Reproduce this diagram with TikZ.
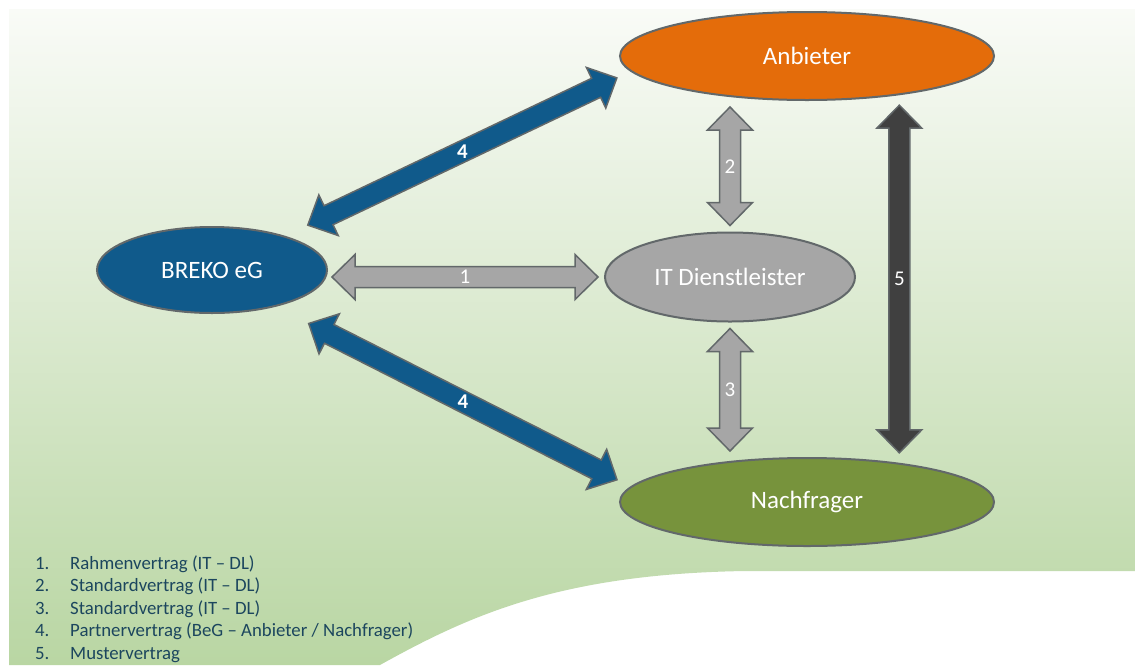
\documentclass[tikz,border=0pt]{standalone}
\usepackage{fontspec}
\setmainfont{Carlito}
\usetikzlibrary{shapes.geometric,calc}

\definecolor{anbieter}{HTML}{E46C0A}
\definecolor{breko}{HTML}{105A8B}
\definecolor{itgrey}{HTML}{A6A6A6}
\definecolor{nachfr}{HTML}{77933C}
\definecolor{darkarr}{HTML}{404040}
\definecolor{rimgrey}{HTML}{62686A}
\definecolor{legendtxt}{RGB}{28,70,94}
\definecolor{bgtop}{HTML}{F9FBF7}
\definecolor{bgbottom}{HTML}{B9D6A3}

% half shaft width, half head width, head length
\newcommand{\shw}{10.5}
\newcommand{\hdw}{22.5}
\newcommand{\hdl}{23}

\tikzset{
  party/.style={ellipse, draw=rimgrey, line width=2pt, text=white,
    font=\fontsize{25}{30}\selectfont, minimum width=374, minimum height=88},
  blockarrow/.style={draw=rimgrey, line width=1.5pt, line join=miter},
  arrlabel/.style={text=white, font=\fontsize{21}{25}\selectfont, inner sep=0pt},
}

% double block arrow: from, to, gap at from, gap at to, fill, label
\newcommand{\blockarr}[6]{%
  \draw[blockarrow, fill=#5]
    let \p1=($(#1)!#3!(#2)$), \p2=($(#2)!#4!(#1)$), \p3=($(\p2)-(\p1)$),
        \n1={veclen(\x3,\y3)}, \n2={atan2(\y3,\x3)} in
    {[shift={(\p1)}, rotate=\n2]
      (0,0) -- (\hdl,\hdw) -- (\hdl,\shw) -- (\n1-\hdl,\shw) -- (\n1-\hdl,\hdw) -- (\n1,0)
      -- (\n1-\hdl,-\hdw) -- (\n1-\hdl,-\shw) -- (\hdl,-\shw) -- (\hdl,-\hdw) -- cycle}
    ($(\p1)!0.5!(\p2)$) node[arrlabel] {#6};}

\begin{document}
\begin{tikzpicture}[x=1pt,y=-1pt]
\useasboundingbox (0,0) rectangle (1135,665);
% background
\shade[top color=bgtop, bottom color=bgbottom] (9,9) -- (1135,9) -- (1135,571) -- (745,571)
  .. controls (560,574) and (470,615) .. (380,665) -- (9,665) -- cycle;

% contract parties
\node[party, fill=anbieter] (anb) at (807,56) {Anbieter};
\node[party, fill=breko, minimum width=230, minimum height=86] (breko) at (212,270) {BREKO eG};
\node[party, fill=itgrey, minimum width=250, minimum height=89] (itdl) at (730,277) {IT Dienstleister};
\node[party, fill=nachfr] (nach) at (807,502) {Nachfrager};

\coordinate (a1) at (itdl.west -| breko.east);
\coordinate (a2) at (itdl.north |- anb.south);
\coordinate (a3) at (itdl.south |- nach.north);

% contracts
\blockarr{a1}{itdl.west}{4pt}{6pt}{itgrey}{1}
\blockarr{itdl.north}{a2}{6pt}{6pt}{itgrey}{2}
\blockarr{itdl.south}{a3}{6pt}{6pt}{itgrey}{3}
\blockarr{breko.25}{anb.185}{25pt}{15pt}{breko}{\bfseries 4}
\blockarr{breko.-30}{nach.175}{37pt}{15pt}{breko}{\bfseries 4}
\blockarr{anb.-23}{nach.23}{10pt}{10pt}{darkarr}{5}

% legend
\node[anchor=base west, text=legendtxt, font=\fontsize{18.8}{22.5}\selectfont, inner sep=0pt] (legend) at (35,569)
  {\begin{tabular}[t]{@{}p{35pt}@{}l@{}}
    1. & Rahmenvertrag (IT – DL)\\
    2. & Standardvertrag (IT – DL)\\
    3. & Standardvertrag (IT – DL)\\
    4. & Partnervertrag (BeG – Anbieter / Nachfrager)\\
    5. & Mustervertrag
  \end{tabular}};
\end{tikzpicture}
\end{document}
